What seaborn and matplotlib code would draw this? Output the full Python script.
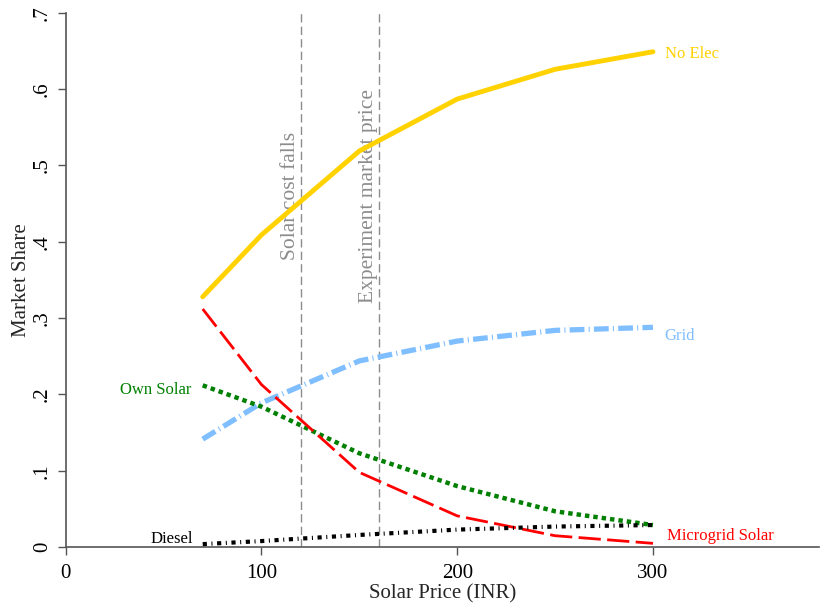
import matplotlib
matplotlib.use("Agg")
import matplotlib.pyplot as plt
import seaborn as sns
import pandas as pd

# Simulated market shares by solar price
prices = [70, 100, 150, 200, 250, 300]
no_elec = [0.328, 0.409, 0.519, 0.587, 0.626, 0.649]
grid = [0.1415, 0.189, 0.244, 0.270, 0.284, 0.288]
own_solar = [0.212, 0.184, 0.123, 0.080, 0.047, 0.029]
microgrid = [0.312, 0.213, 0.098, 0.041, 0.015, 0.005]
diesel = [0.004, 0.008, 0.016, 0.023, 0.027, 0.029]

ref_prices = [120, 160]
ref_labels = ["Solar cost falls", "Experiment market price"]

x_ticks = [0, 100, 200, 300]
y_ticks = [0, 0.1, 0.2, 0.3, 0.4, 0.5, 0.6, 0.7]
y_tick_labels = ["0", ".1", ".2", ".3", ".4", ".5", ".6", ".7"]

sns.set_theme(style="white")
plt.rcParams["font.family"] = ["Liberation Serif", "DejaVu Serif"]

df = pd.DataFrame({
    "price": prices * 5,
    "share": no_elec + grid + own_solar + microgrid + diesel,
    "option": (["No Elec"] * 6 + ["Grid"] * 6 + ["Own Solar"] * 6
               + ["Microgrid Solar"] * 6 + ["Diesel"] * 6),
})

styles = {
    "No Elec": dict(color="#FFD200", lw=3.5, ls="-"),
    "Grid": dict(color="#80BFFF", lw=3.8, ls=(0, (2.8, 0.8, 0.2, 0.8))),
    "Own Solar": dict(color="#008000", lw=3.2, ls=(0, (1.0, 0.9))),
    "Microgrid Solar": dict(color="#FF0000", lw=2.0, ls=(0, (8, 2.3))),
    "Diesel": dict(color="#000000", lw=3.0, ls=(0, (1.0, 1.1, 0.25, 1.1))),
}

fig = plt.figure(figsize=(8.21, 6.10), dpi=100)
ax = fig.add_axes([0.080, 0.103, 0.918, 0.876])

for xv in ref_prices:
    ax.axvline(xv, color="#8C8C8C", lw=1.0, ls=(0, (6, 3)), zorder=1)
for xv, lab in zip(ref_prices, ref_labels):
    ax.text(xv - 0.5, 0.46, lab, rotation=90, ha="right", va="center",
            color="#8C8C8C", fontsize=15.5)

for name, st in styles.items():
    sub = df[df["option"] == name]
    sns.lineplot(data=sub, x="price", y="share", ax=ax, color=st["color"],
                 linewidth=st["lw"], linestyle=st["ls"], legend=False,
                 zorder=3)
for line in ax.lines[len(ref_prices):]:
    line.set_solid_capstyle("round")
    line.set_dash_capstyle("butt")

# End labels
ax.text(306, no_elec[-1] - 0.003, "No Elec", color="#FFD200", fontsize=12, va="center", ha="left")
ax.text(306, grid[-1] - 0.012, "Grid", color="#80BFFF", fontsize=12, va="center", ha="left")
ax.text(307, 0.015, "Microgrid Solar", color="#FF0000", fontsize=12, va="center", ha="left")
ax.text(64, 0.206, "Own Solar", color="#008000", fontsize=12, va="center", ha="right")
ax.text(65, 0.011, "Diesel", color="#000000", fontsize=12, va="center", ha="right")

ax.set_xlim(0, 385)
ax.set_ylim(0, 0.7)
ax.set_xticks(x_ticks)
ax.set_xticklabels([str(v) for v in x_ticks], fontsize=15)
ax.set_yticks(y_ticks)
ax.set_yticklabels(y_tick_labels, fontsize=15, rotation=90, va="center")
ax.set_xlabel("Solar Price (INR)", fontsize=15, labelpad=1)
ax.set_ylabel("Market Share", fontsize=15, labelpad=1)

for side in ["top", "right"]:
    ax.spines[side].set_visible(False)
for side in ["left", "bottom"]:
    ax.spines[side].set_color("#555555")
    ax.spines[side].set_linewidth(1.2)
ax.tick_params(axis="both", direction="out", length=6, width=1.0,
               color="#555555", colors="#000000", bottom=True, left=True)
ax.tick_params(axis="x", pad=6)
ax.tick_params(axis="y", pad=4)

fig.savefig("out.png", dpi=100, facecolor="white")
